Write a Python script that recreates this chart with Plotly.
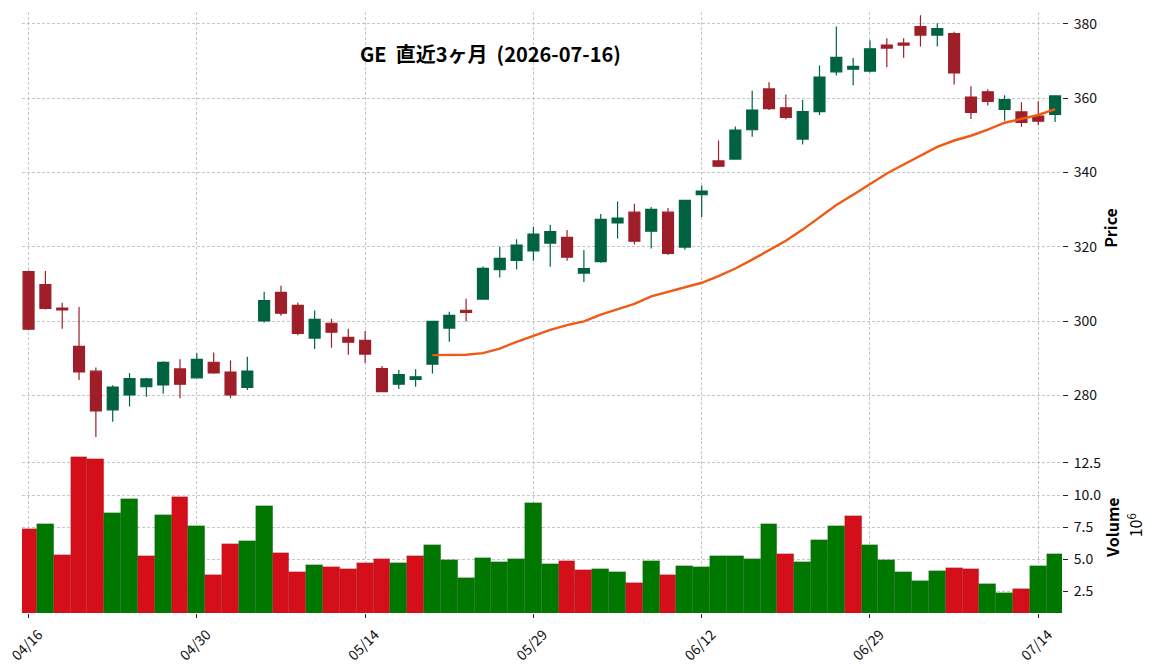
import plotly.graph_objects as go
import pandas as pd

# ---- data ----
dates = ["04/16", "04/17", "04/20", "04/21", "04/22", "04/23", "04/24", "04/27", "04/28", "04/29",
         "04/30", "05/01", "05/04", "05/05", "05/06", "05/07", "05/08", "05/11", "05/12", "05/13",
         "05/14", "05/15", "05/18", "05/19", "05/20", "05/21", "05/22", "05/26", "05/27", "05/28",
         "05/29", "06/01", "06/02", "06/03", "06/04", "06/05", "06/08", "06/09", "06/10", "06/11",
         "06/12", "06/15", "06/16", "06/17", "06/18", "06/22", "06/23", "06/24", "06/25", "06/26",
         "06/29", "06/30", "07/01", "07/02", "07/06", "07/07", "07/08", "07/09", "07/10", "07/13",
         "07/14", "07/15"]

opens = [313.3, 309.8, 303.5, 293.2, 286.5, 276.1, 280.1, 282.3, 282.8, 287.1,
         284.7, 288.9, 286.25, 282.1, 300.0, 307.7, 304.2, 295.4, 299.4, 295.6,
         294.8, 287.2, 283.0, 284.3, 288.4, 298.1, 302.9, 305.9, 313.8, 316.3,
         318.9, 321.0, 322.5, 312.9, 316.0, 326.4, 329.3, 324.2, 329.3, 319.9,
         334.0, 343.1, 343.6, 351.5, 362.5, 357.4, 349.0, 356.4, 367.1, 367.8,
         367.3, 374.3, 374.8, 379.3, 377.0, 377.4, 360.3, 361.7, 357.0, 356.3,
         355.2, 355.6]
highs = [313.6, 313.5, 304.9, 303.8, 287.5, 282.7, 286.0, 284.7, 289.2, 289.7,
         291.3, 291.5, 289.4, 290.4, 307.9, 309.5, 305.0, 302.8, 300.6, 297.9,
         297.3, 287.9, 286.8, 287.0, 300.0, 302.5, 306.0, 314.7, 320.0, 322.0,
         325.4, 325.9, 324.5, 319.1, 328.8, 332.2, 331.6, 330.7, 330.4, 332.6,
         336.5, 348.6, 352.4, 362.0, 364.3, 361.0, 359.5, 368.8, 379.3, 370.8,
         375.6, 376.1, 376.1, 382.3, 380.2, 377.9, 363.2, 362.4, 360.8, 358.9,
         359.2, 360.8]
lows = [297.5, 303.1, 297.9, 284.1, 268.8, 272.9, 277.0, 279.6, 280.4, 279.2,
        284.5, 285.8, 279.2, 281.4, 299.6, 301.4, 296.2, 292.5, 292.8, 290.9,
        288.7, 280.8, 281.7, 282.3, 285.9, 294.4, 299.9, 305.8, 311.7, 313.9,
        316.2, 314.6, 316.2, 310.5, 315.7, 322.2, 320.6, 319.5, 317.8, 319.2,
        328.0, 341.5, 343.5, 349.6, 356.8, 354.3, 347.5, 355.5, 366.1, 363.5,
        366.9, 368.3, 370.9, 373.9, 373.9, 363.7, 354.4, 358.0, 353.9, 352.3,
        352.7, 353.6]
closes = [297.8, 303.4, 303.0, 286.3, 275.8, 282.2, 284.5, 284.4, 288.9, 283.0,
          289.7, 286.0, 280.1, 286.5, 305.5, 302.1, 296.7, 300.45, 297.0, 294.3,
          291.1, 281.0, 285.6, 285.0, 299.9, 301.5, 302.3, 314.2, 316.9, 320.45,
          323.4, 324.1, 317.2, 314.1, 327.4, 327.7, 321.5, 330.1, 318.2, 332.5,
          335.0, 341.7, 351.4, 356.8, 357.2, 354.8, 356.4, 365.7, 371.0, 368.6,
          373.3, 373.5, 374.3, 377.0, 378.7, 366.8, 356.2, 359.1, 359.6, 353.5,
          353.8, 360.6]
volumes_m = [7.37, 7.76, 5.34, 12.92, 12.84, 8.62, 9.71, 5.26, 8.46, 9.87,
             7.60, 3.78, 6.20, 6.43, 9.17, 5.49, 4.01, 4.56, 4.40, 4.24,
             4.71, 5.03, 4.71, 5.26, 6.12, 4.95, 3.54, 5.10, 4.79, 5.03,
             9.40, 4.64, 4.87, 4.17, 4.24, 4.01, 3.15, 4.87, 3.78, 4.48,
             4.40, 5.26, 5.26, 5.03, 7.76, 5.42, 4.79, 6.51, 7.60, 8.39,
             6.12, 4.95, 4.01, 3.31, 4.09, 4.32, 4.24, 3.07, 2.37, 2.68,
             4.48, 5.42]
ma_window = 25
tick_every = 10
title_text = "GE  直近3ヶ月  (2026-07-16)"

# ---- derived ----
idx = list(range(len(dates)))
ma = pd.Series(closes).rolling(ma_window).mean()
UP_C, DN_C = "#006340", "#9e1f29"
VUP, VDN = "#007800", "#d40f1a"
vcolors = [VUP if opens[0] < closes[0] else VDN]
vcolors += [VUP if closes[i - 1] < closes[i] else VDN for i in range(1, len(closes))]
tickvals = idx[::tick_every]
ticktext = [dates[i] for i in tickvals]

FONT = "Noto Sans CJK JP"
fig = go.Figure()
fig.add_trace(go.Candlestick(
    x=idx, open=opens, high=highs, low=lows, close=closes,
    increasing=dict(line=dict(color=UP_C, width=1.2), fillcolor=UP_C),
    decreasing=dict(line=dict(color=DN_C, width=1.2), fillcolor=DN_C),
    whiskerwidth=0, xaxis="x", yaxis="y", showlegend=False))
fig.add_trace(go.Scatter(x=idx, y=ma, mode="lines", line=dict(color="#f05a14", width=2.4),
                         xaxis="x", yaxis="y", showlegend=False))
fig.add_trace(go.Bar(x=idx, y=volumes_m, width=1.0, marker=dict(color=vcolors,
                     line=dict(color="rgba(0,0,0,0.18)", width=0.6)),
                     base=0, xaxis="x", yaxis="y2", showlegend=False))

grid = dict(showgrid=True, gridcolor="#c6c6c6", gridwidth=0.8, griddash="3px,2px")
fig.update_layout(
    width=1156, height=670,
    margin=dict(l=22, r=94, t=12, b=57, autoexpand=False),
    paper_bgcolor="white", plot_bgcolor="white",
    font=dict(family=FONT, size=14, color="#111"),
    boxgap=0.35, boxgroupgap=0,
    bargap=0,
    xaxis=dict(range=[-0.39, 61.41], anchor="y2", tickvals=tickvals, ticktext=ticktext,
               tickangle=-45, ticks="outside", ticklen=4, tickcolor="#222",
               ticklabelshift=10, ticklabelstandoff=3, ticklabeloverflow="allow",
               automargin=False,
               rangeslider=dict(visible=False), zeroline=False, showline=False,
               tickfont=dict(size=14), **grid),
    yaxis=dict(domain=[0.2862, 1.0], range=[267.7, 383.2], side="right", anchor="x",
               tickvals=[280, 300, 320, 340, 360, 380], ticks="outside", ticklen=5,
               tickcolor="#222", zeroline=False, showline=False, ticklabelstandoff=3,
               automargin=False, tickfont=dict(size=14), **grid),
    yaxis2=dict(domain=[0.0, 0.2862], range=[0.83, 14.2], side="right", anchor="x",
                tickvals=[2.5, 5.0, 7.5, 10.0, 12.5], tickformat=".1f", ticks="outside",
                ticklen=5, tickcolor="#222", zeroline=False, showline=False,
                ticklabelstandoff=3, automargin=False, tickfont=dict(size=14), **grid),
    annotations=[
        dict(text="<b>" + title_text + "</b>", xref="paper", yref="paper", x=0.45, y=0.931,
             showarrow=False, font=dict(size=20, family=FONT, color="#000"),
             xanchor="center", yanchor="middle"),
        dict(text="<b>Price</b>", xref="paper", yref="paper", x=1.046, y=0.6406,
             showarrow=False, textangle=-90, font=dict(size=16, family=FONT, color="#000"),
             xanchor="center", yanchor="middle"),
        dict(text="<b>Volume</b>", xref="paper", yref="paper", x=1.048, y=0.1431,
             showarrow=False, textangle=-90, font=dict(size=16, family=FONT, color="#000"),
             xanchor="center", yanchor="middle"),
        dict(text="10<sup>6</sup>", xref="paper", yref="paper", x=1.0702, y=0.146,
             showarrow=False, textangle=-90, font=dict(size=16, family=FONT, color="#000"),
             xanchor="center", yanchor="middle"),
    ],
)
fig.write_html("out.html")
